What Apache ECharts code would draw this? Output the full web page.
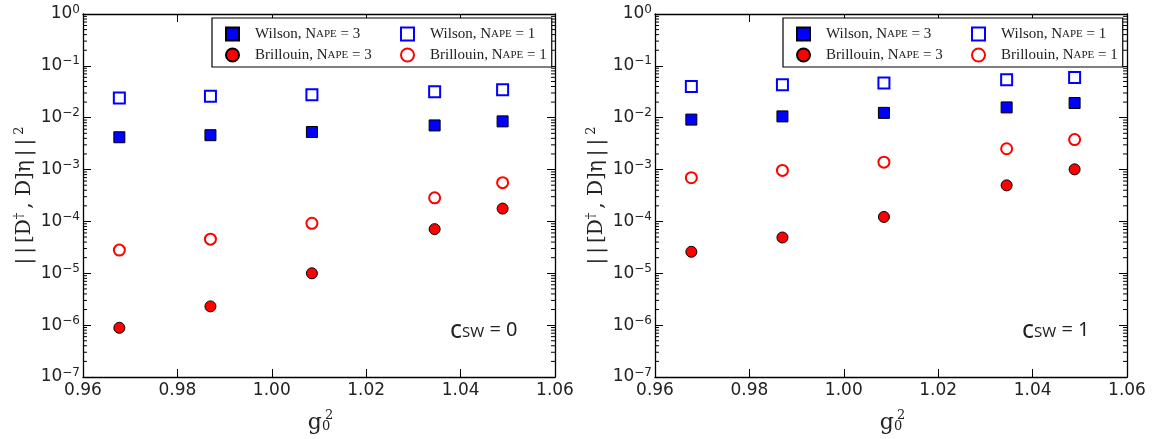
<!DOCTYPE html>
<html>
<head>
<meta charset="utf-8">
<script src="https://cdn.jsdelivr.net/npm/echarts@6/dist/echarts.min.js"></script>
<style>html,body{margin:0;padding:0;background:#fff;}#c{width:1160px;height:439px;}</style>
</head>
<body>
<div id="c"></div>
<script>
// ---- data ----
const g0sq = [0.9677, 0.9870, 1.0085, 1.0345, 1.0489];
// c_SW = 0
const wilsonN3_csw0 = [0.0042, 0.0046, 0.0053, 0.0071, 0.0085];
const wilsonN1_csw0 = [0.0240, 0.0258, 0.0278, 0.0317, 0.0347];
const brillN3_csw0 = [8.9e-7, 2.3e-6, 1.0e-5, 7.1e-5, 1.77e-4];
const brillN1_csw0 = [2.8e-5, 4.55e-5, 9.2e-5, 2.85e-4, 5.6e-4];
// c_SW = 1
const wilsonN3_csw1 = [0.0092, 0.0106, 0.0124, 0.0158, 0.0192];
const wilsonN1_csw1 = [0.0401, 0.0433, 0.0466, 0.0540, 0.0597];
const brillN3_csw1 = [2.6e-5, 4.9e-5, 1.22e-4, 4.96e-4, 1.01e-3];
const brillN1_csw1 = [6.97e-4, 9.64e-4, 1.39e-3, 2.52e-3, 3.79e-3];
// axes
const xTicks = [0.96, 0.98, 1.00, 1.02, 1.04, 1.06];
const yMin = 1e-7, yMax = 1;
const minorMantissas = [2, 3, 4, 5, 6, 7, 8, 9];
const decades = [-7, -6, -5, -4, -3, -2, -1];
const panelLabels = ['0', '1'];
const legendNames = ['W3', 'W1', 'B3', 'B1'];

const minorTickVals = [];
decades.forEach(d => minorMantissas.forEach(m => minorTickVals.push([xTicks[0], m * Math.pow(10, d)])));

const pair = arr => arr.map((v, i) => [g0sq[i], v]);

const chart = echarts.init(document.getElementById('c'), null, {renderer: 'canvas'});

const gridDefs = [
  {left: 83, top: 14, width: 472, height: 364},
  {left: 655, top: 14, width: 472, height: 364}
];

const tickFont = 'DejaVu Sans';
const serif = 'DejaVu Serif';
const legSerif = 'Liberation Serif';
const annFont = 'Noto Sans';

function yLabel(v) {
  const e = Math.round(Math.log10(v));
  return '{b|10}{s|' + (e < 0 ? '\u2212' + (-e) : String(e)) + '}';
}

const xAxes = [], yAxes = [];
gridDefs.forEach((g, gi) => {
  xAxes.push({
    type: 'value', gridIndex: gi, position: 'bottom', min: 0.96, max: 1.06, interval: 0.02,
    axisLine: {lineStyle: {color: '#000', width: 1.3}},
    axisTick: {inside: true, length: 8, lineStyle: {color: '#000', width: 1}},
    axisLabel: {color: '#222', fontFamily: tickFont, fontSize: 17, margin: 5,
      formatter: v => v.toFixed(2)},
    splitLine: {show: false},
    name: '{g|g}{z|0}', nameLocation: 'middle', nameGap: 35,
    nameTextStyle: {rich: {
      g: {fontFamily: serif, fontSize: 22, color: '#222'},
      z: {fontFamily: serif, fontSize: 13, color: '#222', padding: [0, 0, -8, 0]}
    }}
  });
  xAxes.push({
    type: 'value', gridIndex: gi, position: 'top', min: 0.96, max: 1.06, interval: 0.02,
    axisLine: {lineStyle: {color: '#000', width: 1.3}},
    axisTick: {inside: true, length: 8, lineStyle: {color: '#000', width: 1}},
    axisLabel: {show: false}, splitLine: {show: false}
  });
  yAxes.push({
    type: 'log', logBase: 10, gridIndex: gi, position: 'left', min: yMin, max: yMax, interval: 1,
    axisLine: {show: true, lineStyle: {color: '#000', width: 1.3}},
    axisTick: {show: true, inside: true, length: 8, lineStyle: {color: '#000', width: 1}},
    axisLabel: {color: '#222', margin: 3, formatter: yLabel, rich: {
      b: {fontFamily: tickFont, fontSize: 17, color: '#222'},
      s: {fontFamily: tickFont, fontSize: 12, color: '#222', padding: [0, 0, 9, 0]}
    }},
    splitLine: {show: false},
    name: '|\u2009|\u2009[D{sup|\u2020}\u2009, D]\u03b7\u2009|\u2009|\u2009{sup|2}', nameLocation: 'middle', nameRotate: 90, nameGap: 47,
    nameTextStyle: {fontFamily: serif, fontSize: 20, color: '#222', rich: {
      sup: {fontFamily: serif, fontSize: 13, color: '#222', padding: [0, 0, 10, 0]}
    }}
  });
  yAxes.push({
    type: 'log', logBase: 10, gridIndex: gi, position: 'right', min: yMin, max: yMax, interval: 1,
    axisLine: {show: true, lineStyle: {color: '#000', width: 1.3}},
    axisTick: {show: true, inside: true, length: 8, lineStyle: {color: '#000', width: 1}},
    axisLabel: {show: false}, splitLine: {show: false}
  });
});

const panels = [
  {w3: wilsonN3_csw0, w1: wilsonN1_csw0, b3: brillN3_csw0, b1: brillN1_csw0},
  {w3: wilsonN3_csw1, w1: wilsonN1_csw1, b3: brillN3_csw1, b1: brillN1_csw1}
];

const series = [];
panels.forEach((p, pi) => {
  const xi = pi * 2, yi = pi * 2;
  series.push({name: 'W3', type: 'scatter', xAxisIndex: xi, yAxisIndex: yi, data: pair(p.w3),
    symbol: 'rect', symbolSize: 11, itemStyle: {color: '#0000ff', borderColor: '#000', borderWidth: 1, opacity: 1}, z: 3});
  series.push({name: 'W1', type: 'scatter', xAxisIndex: xi, yAxisIndex: yi, data: pair(p.w1),
    symbol: 'rect', symbolSize: 11, itemStyle: {color: '#fff', borderColor: '#0000ff', borderWidth: 2, opacity: 1}, z: 3});
  series.push({name: 'B3', type: 'scatter', xAxisIndex: xi, yAxisIndex: yi, data: pair(p.b3),
    symbol: 'circle', symbolSize: 11, itemStyle: {color: '#ff0000', borderColor: '#000', borderWidth: 1, opacity: 1}, z: 3});
  series.push({name: 'B1', type: 'scatter', xAxisIndex: xi, yAxisIndex: yi, data: pair(p.b1),
    symbol: 'circle', symbolSize: 11, itemStyle: {color: '#fff', borderColor: '#ff0000', borderWidth: 2, opacity: 1}, z: 3});
  series.push({
    type: 'custom', xAxisIndex: xi, yAxisIndex: yi, data: minorTickVals, silent: true, clip: false, z: 2,
    renderItem: function (params, api) {
      const pt = api.coord([api.value(0), api.value(1)]);
      const cs = params.coordSys;
      return {type: 'group', children: [
        {type: 'line', shape: {x1: cs.x, y1: pt[1], x2: cs.x + 4, y2: pt[1]}, style: {stroke: '#000', lineWidth: 1}},
        {type: 'line', shape: {x1: cs.x + cs.width, y1: pt[1], x2: cs.x + cs.width - 4, y2: pt[1]}, style: {stroke: '#000', lineWidth: 1}}
      ]};
    }
  });
});

const legendLabel = {
  W3: 'Wilson, {n|N}{s|APE}{n| = 3}',
  W1: 'Wilson, {n|N}{s|APE}{n| = 1}',
  B3: 'Brillouin, {n|N}{s|APE}{n| = 3}',
  B1: 'Brillouin, {n|N}{s|APE}{n| = 1}'
};

function makeLegend(left) {
  return {
    left: left, top: 18, orient: 'horizontal', width: 420,
    padding: [8, 5, 4, 13], itemGap: 5, itemWidth: 13, itemHeight: 13,
    borderColor: '#000', borderWidth: 1.2, backgroundColor: '#fff',
    data: legendNames.map((n, i) => ({name: n, textStyle: {width: i % 2 === 0 ? 140 : 112}})),
    formatter: n => legendLabel[n],
    textStyle: {fontFamily: legSerif, fontSize: 15, color: '#222', lineHeight: 16, padding: [0, 0, 0, 11],
      rich: {
        n: {fontFamily: legSerif, fontSize: 15, color: '#222', lineHeight: 16},
        s: {fontFamily: legSerif, fontSize: 11, color: '#222', lineHeight: 16}
      }}
  };
}

const titles = [];
const cswPos = [{left: 445, top: 313}, {left: 1017, top: 313}];
cswPos.forEach((pos, i) => {
  titles.push({
    left: pos.left, top: pos.top,
    text: '{c|c}{s|SW}{e| = ' + panelLabels[i] + '}',
    textStyle: {fontWeight: 'normal', rich: {
      c: {fontFamily: annFont, fontSize: 25, color: '#222', fontWeight: 'normal'},
      s: {fontFamily: annFont, fontSize: 15, color: '#222', fontWeight: 'normal', padding: [0, 0, -5, 0]},
      e: {fontFamily: annFont, fontSize: 20, color: '#222', fontWeight: 'normal'}
    }}
  });
});
// superscript 2 of g0^2
[320, 892].forEach(x => {
  titles.push({left: x, top: 404, text: '2', textStyle: {fontFamily: serif, fontSize: 13, color: '#222', fontWeight: 'normal'}});
});

chart.setOption({
  animation: false,
  backgroundColor: '#fff',
  title: titles,
  grid: gridDefs,
  xAxis: xAxes,
  yAxis: yAxes,
  legend: [makeLegend(212), makeLegend(783)],
  series: series
});
</script>
</body>
</html>
